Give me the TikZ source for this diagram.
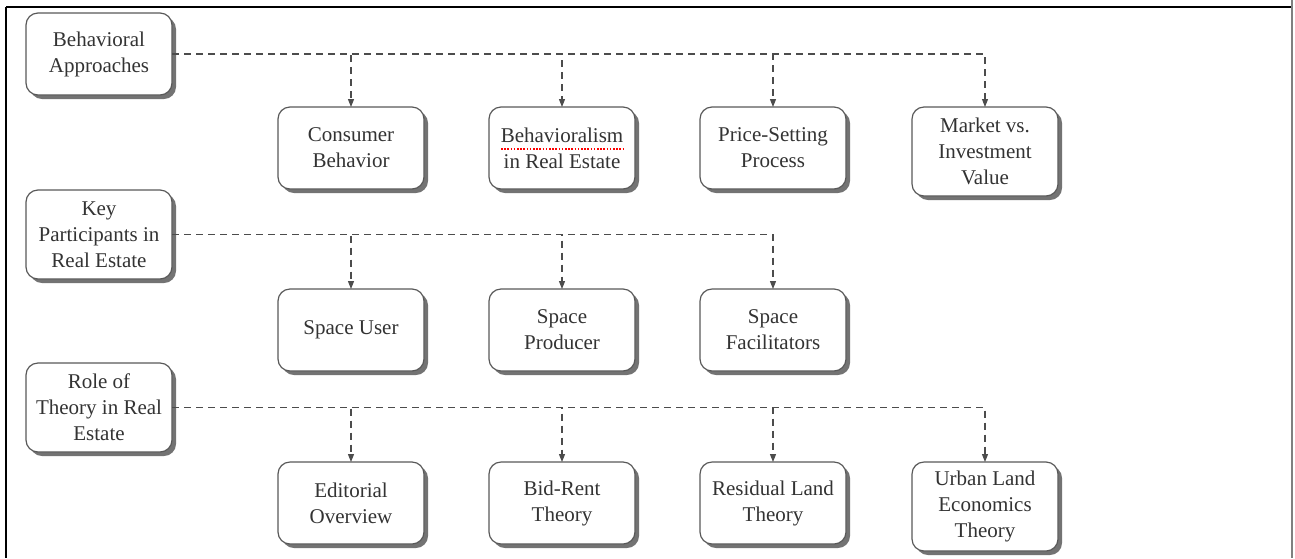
\documentclass[tikz,border=0pt]{standalone}
\usepackage{fontspec}
\setmainfont{Liberation Serif}
\newfontfamily\boxfont{Liberation Serif}
\usetikzlibrary{positioning}
\usetikzlibrary{arrows.meta}
\usetikzlibrary{shadows}

\begin{document}
\begin{tikzpicture}[
			x=1pt, y=-1pt,
			box/.style={draw=black!65, fill=white, line width=1.2pt, rounded corners=12pt,
				minimum width=146pt, minimum height=82pt, align=center, inner sep=4pt, outer sep=0pt,
				text=black!80, font=\boxfont\fontsize{21}{26}\selectfont,
				drop shadow={shadow xshift=4pt, shadow yshift=-4pt, fill=black!55, opacity=1}},
			tall/.style={box, minimum height=89pt},
			link/.style={draw=black!70, line width=1.1pt, dash pattern=on 7pt off 5pt,
				-{Triangle[length=8pt, width=6pt]}}
			]
			% Frame
			\useasboundingbox (0,0) rectangle (1295,558);
			\draw[line width=2pt] (6,7) -- (6,558);
			\draw[line width=1.2pt] (6,7) -- (1065,7);
			\draw[line width=2.5pt] (1065,7) -- (1291,7);
			\draw[black!50, line width=2pt] (1292,0) -- (1292,558);
			
			% Behavioral approaches
			\node[box, anchor=north west] (beh) at (26,13) {Behavioral\\Approaches};
			\node[box, below right=12pt and 106pt of beh] (cons) {Consumer\\Behavior};
			\node[box, right=65pt of cons] (behr) {Behavioralism\\in Real Estate};
			\node[box, right=65pt of behr] (price) {Price-Setting\\Process};
			\node[tall, right=66pt of price.north east, anchor=north west] (mkt) {Market vs.\\Investment\\Value};
			
			% Key participants
			\node[tall, below=95pt of beh] (key) {Key\\Participants in\\Real Estate};
			\node[box, below right=10pt and 106pt of key] (user) {Space User};
			\node[box, right=65pt of user] (prod) {Space\\Producer};
			\node[box, right=65pt of prod] (fac) {Space\\Facilitators};
			
			% Role of theory
			\node[tall, below=84pt of key] (role) {Role of\\Theory in Real\\Estate};
			\node[box, below right=10pt and 106pt of role] (edit) {Editorial\\Overview};
			\node[box, right=65pt of edit] (bid) {Bid-Rent\\Theory};
			\node[box, right=65pt of bid] (resid) {Residual Land\\Theory};
			\node[tall, right=66pt of resid.north east, anchor=north west] (urban) {Urban Land\\Economics\\Theory};
			
			% Spelling mark
			\draw[red, line width=1.6pt, dash pattern=on 1.6pt off 1.6pt]
				([xshift=-61pt, yshift=-1pt]behr.center) -- ([xshift=61pt, yshift=-1pt]behr.center);
			
			% Connections
			\foreach \c in {cons,behr,price,mkt}
			\draw[link] (beh.east) -| (\c.north);
			\foreach \c in {user,prod,fac}
			\draw[link] (key.east) -| (\c.north);
			\foreach \c in {edit,bid,resid,urban}
			\draw[link] (role.east) -| (\c.north);
		\end{tikzpicture}
\end{document}
